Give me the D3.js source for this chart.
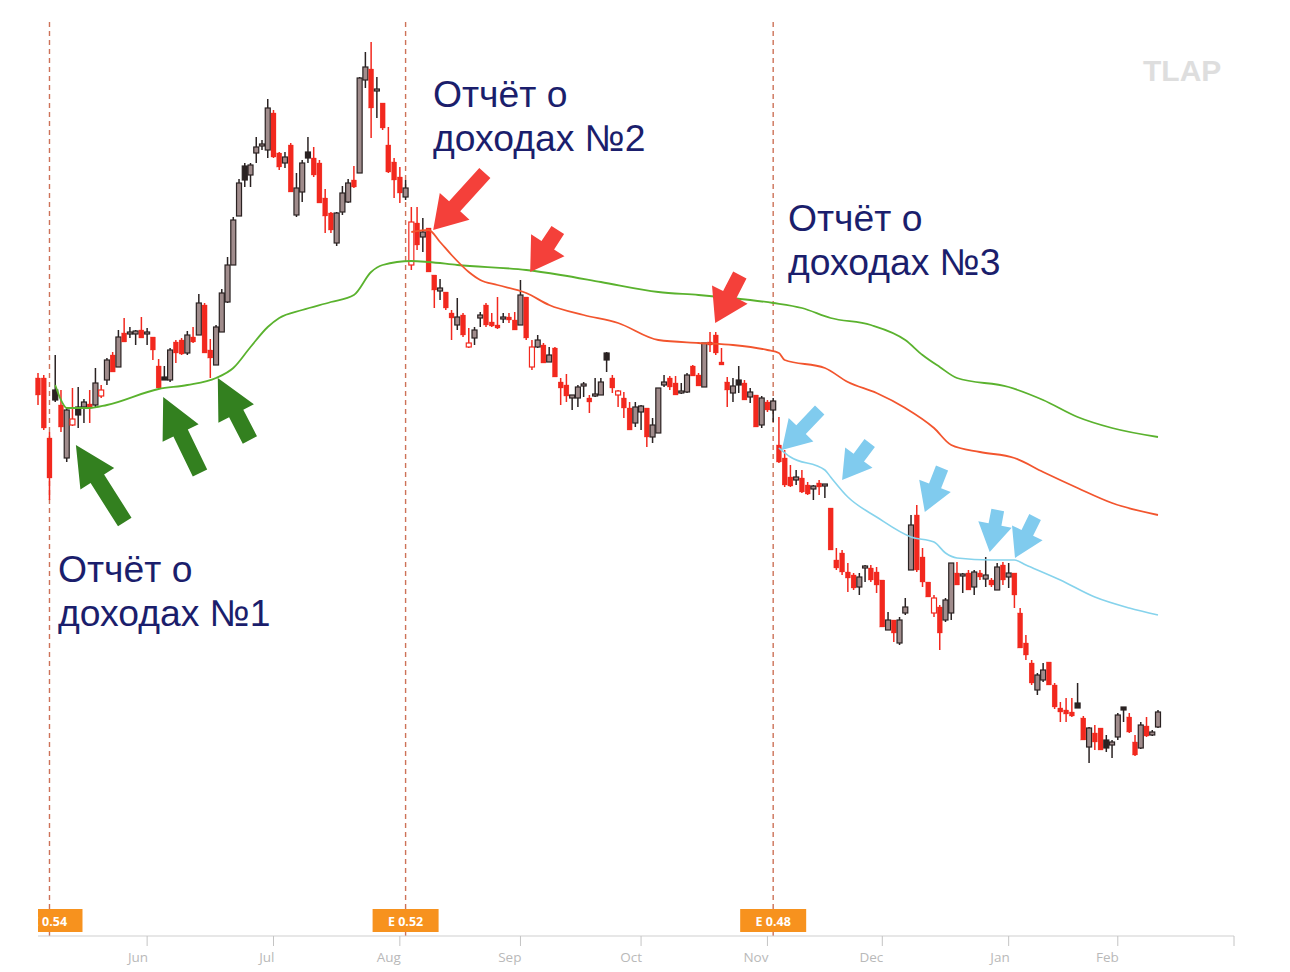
<!DOCTYPE html>
<html><head><meta charset="utf-8">
<script src="https://cdn.jsdelivr.net/npm/d3@7/dist/d3.min.js"></script>
<style>html,body{margin:0;padding:0;background:#fff;}svg{display:block;}</style>
</head><body>
<svg id="chart" width="1290" height="972"></svg>
<script>
// ---- categories: trading days ----
const startDate = "2015-05-04", endDate = "2016-02-10";
const holidays = ["2015-05-25","2015-07-03","2015-09-07","2015-11-26","2015-12-25","2016-01-01","2016-01-18"];

// ---- OHLC series ----
const O = [62.2,62.2,56.2,61.0,59.5,54.2,57.5,59.3,59.3,59.6, 59.5,60.4,62.0,64.5,63.3,66.7,66.6,66.6,67.0,66.6, 66.3,63.4,62.3,62.0,65.8,66.0,64.7,66.3,66.5,69.5, 65.0,63.5,66.8,69.8,73.5,78.4,83.4,82.5,84.7,85.4, 85.0,88.7,84.7,83.7,85.5,78.5,80.8,84.8,84.2,83.7, 80.2,78.7,75.7,78.8,79.8,82.0,82.7,92.0,93.1,90.9, 89.7,85.5,83.8,82.3,80.3,73.5,77.7,76.3,77.2,72.5, 70.9,70.8,68.7,67.5,68.5,65.3,66.2,68.2,69.5,67.8, 67.5,68.1,68.3,68.0,67.5,70.3,63.3,65.3,65.5,63.8, 65.2,61.8,61.5,60.2,60.2,61.4,60.2,60.4,60.5,64.7, 62.2,60.5,60.2,59.2,57.7,58.8,59.2,56.3,56.7,61.5, 62.2,61.7,60.7,60.8,63.4,62.5,61.3,65.8,66.5,63.8, 61.8,60.7,62.0,61.7,60.3,60.5,57.5,59.8,59.0,55.5, 54.2,52.3,52.0,52.2,51.5,51.1,51.7,51.4,49.2,44.0, 44.7,42.8,42.5,41.3,43.2,43.2,42.8,42.0,37.0,38.0, 35.7,38.7,43.0,48.5,44.3,41.8,38.7,39.3,38.0,38.7, 42.7,42.4,42.7,41.3,42.7,42.1,42.0,41.0,43.5,42.3, 42.7,38.7,35.7,33.7,31.0,32.0,33.8,31.5,29.2,29.0, 28.8,29.7,28.2,25.3,26.7,27.2,26.0,25.5,26.3,29.3, 28.3,25.8,25.2,27.4,26.5,27.3];
const H = [62.7,62.5,56.8,64.5,61.0,59.2,61.2,61.3,60.1,61.0, 63.2,61.5,64.2,64.8,67.0,68.2,67.3,67.0,68.3,67.2, 66.3,64.1,63.4,65.2,66.0,66.2,66.9,67.3,70.6,69.7, 66.1,67.5,71.1,74.3,78.3,82.1,83.7,83.7,86.3,86.0, 90.1,89.0,84.8,84.8,85.7,82.7,84.0,86.3,85.3,84.0, 81.1,78.8,78.8,81.4,82.1,83.4,92.3,94.8,95.8,92.3, 89.7,87.3,84.2,83.3,82.0,79.3,79.3,78.2,77.2,72.5, 72.1,70.8,69.0,70.2,68.7,67.2,67.3,68.8,69.7,68.7, 70.3,68.7,68.7,68.8,72.0,70.3,66.0,66.5,65.7,65.3, 65.3,62.2,62.6,60.5,61.5,61.8,60.5,62.2,62.2,64.8, 62.5,61.0,60.8,59.8,59.8,59.5,59.2,58.2,61.2,62.5, 62.4,62.4,61.7,62.7,63.5,62.7,65.7,66.8,66.8,65.2, 62.3,62.2,63.4,62.0,61.2,60.5,60.4,60.0,60.2,58.3, 55.0,53.5,53.0,53.0,51.8,51.5,52.0,51.6,49.2,45.2, 45.0,43.7,42.7,42.7,43.5,43.5,43.3,42.0,38.8,38.0, 38.3,40.2,48.5,49.5,45.2,41.8,40.5,39.5,40.2,43.7, 43.8,42.7,43.0,43.0,43.0,44.3,42.2,43.7,43.8,43.7, 42.7,39.2,36.5,34.0,32.7,33.7,33.8,31.7,29.8,30.2, 30.2,31.7,28.4,27.3,27.5,27.2,26.5,26.0,28.7,29.3, 28.7,26.5,27.8,28.3,27.0,29.0];
const L = [59.5,57.0,50.0,59.8,56.8,53.8,57.4,57.2,57.7,57.7, 59.3,60.2,61.5,62.8,63.3,65.8,66.2,65.5,66.2,65.5, 64.0,61.2,62.0,61.8,63.7,64.5,64.5,65.7,66.5,64.7, 62.2,63.5,66.8,69.7,73.5,78.4,81.3,81.3,83.7,85.0, 84.2,84.2,83.0,83.2,80.8,78.3,79.8,83.7,82.3,79.7, 76.7,76.7,75.4,78.5,79.7,81.2,82.7,91.2,86.2,88.2, 87.0,82.7,80.2,79.7,80.0,73.0,75.0,74.8,72.8,69.2, 70.0,69.0,66.0,67.0,66.3,65.2,65.5,67.3,67.3,67.3, 67.1,67.7,67.7,67.0,67.5,66.0,63.0,65.2,63.7,63.8, 62.3,59.5,59.8,59.0,59.3,60.3,58.7,60.3,60.5,62.8, 60.7,59.3,58.2,57.0,57.3,57.0,55.3,55.7,56.7,61.3, 61.0,60.5,60.6,60.7,62.4,61.4,61.3,64.8,64.5,63.5, 59.3,59.8,60.7,60.0,59.7,57.3,57.2,58.8,57.8,53.7, 51.3,51.3,51.5,50.7,50.5,50.0,50.5,50.2,45.0,43.0, 42.5,40.8,41.0,40.5,41.8,41.8,40.7,37.3,37.0,35.8, 35.5,38.5,43.0,42.8,41.3,40.3,38.3,35.0,37.8,38.0, 41.5,40.7,41.0,40.5,42.0,41.3,41.3,41.0,41.5,41.2, 39.2,35.2,34.0,31.5,30.5,31.8,31.5,29.1,27.8,27.8, 28.3,29.2,26.0,23.7,25.0,25.0,24.8,24.2,26.0,27.8, 26.7,24.4,25.1,26.3,26.4,27.2];
const C = [60.5,57.2,52.2,60.0,57.3,59.0,58.1,58.5,59.8,59.2, 61.7,61.0,64.0,62.8,66.3,65.8,66.8,66.9,66.2,66.8, 65.0,61.2,62.0,65.0,64.7,64.6,66.5,65.8,69.7,64.7, 64.2,67.3,70.7,73.5,78.0,81.7,82.0,83.5,85.3,85.6, 89.2,84.3,83.3,84.3,80.8,81.2,83.7,84.2,82.5,79.7, 78.4,77.0,78.7,80.7,81.7,81.3,92.2,93.3,89.2,91.1, 87.2,82.8,82.0,80.7,81.2,77.8,75.5,76.8,72.8,71.0, 71.2,69.2,68.2,68.3,66.5,65.7,67.0,68.5,67.5,67.4, 67.2,68.3,68.0,67.0,70.5,66.2,65.3,66.0,63.7,64.5, 62.3,61.2,60.4,60.5,61.3,61.6,59.8,60.6,61.8,64.0, 61.2,60.9,59.2,57.0,59.3,59.4,56.3,57.5,61.2,61.8, 61.3,60.5,60.9,62.5,62.4,61.4,65.7,65.5,64.7,63.5, 61.0,61.4,61.5,60.0,60.8,57.3,60.2,59.0,59.9,53.8, 51.5,51.4,52.3,50.8,50.6,51.4,51.3,51.6,45.0,43.2, 42.8,42.2,41.2,42.3,43.4,42.0,41.5,37.3,38.0,36.7, 38.0,39.3,47.5,43.0,41.8,40.3,40.2,36.7,40.0,43.7, 41.5,42.6,41.0,42.8,42.3,42.5,41.5,43.3,42.0,42.7, 40.5,35.2,34.5,31.7,32.5,33.0,31.5,29.3,28.8,28.6, 28.4,29.2,26.0,27.2,25.8,25.0,25.2,25.8,28.5,29.0, 26.8,24.5,27.5,26.4,26.8,28.8];

// ---- anchored average lines: [day index, value] ----
const greenLine = [[3,61.5],[4,60.0],[5,59.2],[9,59.2],[12,59.5],[21,61.1],[26,61.5],[31,62.2],[34,63.2],[37,65.3],[40,67.3],[42,68.2],[46,69.0],[51,69.8],[55,70.5],[58,72.8],[60,73.5],[65,73.9],[68,73.8],[73,73.5],[85,73.0],[91,72.5],[98,71.8],[108,70.8],[115,70.5],[124,70.0],[128,69.7],[133,69.2],[138,68.2],[145,67.5],[151,66.0],[154,64.5],[157,63.3],[160,62.2],[169,61.3],[175,60.0],[181,58.3],[187,57.2],[195,56.3]];
const redLine = [[65,76.8],[68,77.0],[70,75.8],[72,74.5],[75,72.8],[77,72.0],[80,71.5],[85,70.7],[89,69.5],[95,68.5],[101,67.7],[108,66.0],[115,65.7],[121,65.5],[127,65.0],[129,64.7],[130,64.0],[137,63.2],[141,61.8],[146,60.7],[151,59.2],[156,57.2],[159,55.5],[164,54.8],[170,54.2],[175,52.8],[181,51.2],[187,49.7],[195,48.5]];
const cyanLine = [[129,55.2],[131,54.3],[137,53.0],[138,52.3],[141,50.3],[146,48.3],[152,46.3],[156,45.8],[158,44.7],[160,44.2],[166,44.0],[170,44.0],[172,43.5],[178,42.0],[184,40.3],[190,39.2],[195,38.5]];

// ---- earnings ----
const earningsDates = ["2015-05-06","2015-08-04","2015-11-03"];
const earningsLabels = ["E 0.54","E 0.52","E 0.48"];

// ---- annotations ----
const noteLines = [["Отчёт о","доходах №1"],["Отчёт о","доходах №2"],["Отчёт о","доходах №3"]];
// arrows: tip [index,value], tail [index,value]
const greenArrows = [[[6.6,55.5],[15.1,47.8]],[[21.8,60.3],[28.2,52.7]],[[31.3,62.2],[36.9,56.0]]];
const redArrows = [[[68.8,77.0],[77.8,82.7]],[[85.7,72.8],[90.5,77.0]],[[117.9,67.7],[122.2,72.5]]];
const cyanArrows = [[[129.5,55.0],[136.1,59.0]],[[140.0,52.0],[144.8,55.7]],[[154.4,48.8],[157.4,53.2]],[[165.7,44.8],[167.1,49.0]],[[170.1,44.2],[173.6,48.3]]];

// ---- build ----
const parse = d3.timeParse("%Y-%m-%d"), fmt = d3.timeFormat("%Y-%m-%d");
const dates = d3.timeDay.range(parse(startDate), d3.timeDay.offset(parse(endDate),1))
  .filter(d => d.getDay()!==0 && d.getDay()!==6 && !holidays.includes(fmt(d)));
const data = dates.map((d,i)=>({i, date:d, o:O[i], h:H[i], l:L[i], c:C[i]}));

const svg = d3.select("#chart");
const x = d3.scaleLinear().domain([0, 195]).range([38, 1158]);
const y = d3.scaleLinear().domain([0, 100]).range([1000, 0]);
const axisY = 936, axisEnd = 1234;

svg.append("defs").append("clipPath").attr("id","plotclip")
  .append("rect").attr("x",38).attr("y",0).attr("width",1200).attr("height",972);

// watermark
svg.append("text").attr("x",1143).attr("y",81).text("TLAP")
  .attr("font-family","'Liberation Sans', Arial, sans-serif").attr("font-weight","bold")
  .attr("font-size",30).attr("fill","#dedede");

// earnings lines
const eIdx = earningsDates.map(s => dates.findIndex(d => fmt(d)===s));
svg.append("g").selectAll("line").data(eIdx).join("line")
  .attr("x1",d=>x(d)).attr("x2",d=>x(d)).attr("y1",22).attr("y2",axisY)
  .attr("stroke","#cd7258").attr("stroke-width",1.4).attr("stroke-dasharray","5,4");

// axis
const ax = svg.append("g");
ax.append("line").attr("x1",38).attr("x2",axisEnd).attr("y1",axisY).attr("y2",axisY)
  .attr("stroke","#cfcfcf").attr("stroke-width",1);
const monthStarts = data.filter((d,i)=> i>0 && d.date.getMonth()!==data[i-1].date.getMonth());
ax.selectAll("line.tick").data(monthStarts).join("line").attr("class","tick")
  .attr("x1",d=>x(d.i)).attr("x2",d=>x(d.i)).attr("y1",axisY).attr("y2",axisY+10)
  .attr("stroke","#c4c4c4");
ax.append("line").attr("x1",axisEnd).attr("x2",axisEnd).attr("y1",axisY).attr("y2",axisY+10).attr("stroke","#c4c4c4");
ax.selectAll("text").data(monthStarts).join("text")
  .attr("x",d=>x(d.i)+1).attr("y",962).attr("text-anchor","end")
  .attr("font-family","'Open Sans', sans-serif").attr("font-size",13.5).attr("fill","#b9b9b9")
  .text(d=>d3.timeFormat("%b")(d.date));

// badges
const bg = svg.append("g").attr("clip-path","url(#plotclip)");
eIdx.forEach((d,k)=>{
  bg.append("rect").attr("x",x(d)-33).attr("y",909).attr("width",66).attr("height",23).attr("fill","#f7921e");
  bg.append("text").attr("x",x(d)).attr("y",925.5).attr("text-anchor","middle")
    .attr("font-family","'Open Sans', sans-serif").attr("font-weight","bold").attr("font-size",12.5)
    .attr("fill","#fff").text(earningsLabels[k]);
});

// candles
const bw = 5;
const cg = svg.append("g");
data.forEach((d,i)=>{
  const prev = i>0 ? data[i-1].c : d.o;
  const red = d.c < prev;
  const hollow = d.c > d.o;
  const col = red ? "#f2281e" : "#2a2222";
  cg.append("line").attr("x1",x(i)).attr("x2",x(i)).attr("y1",y(d.h)).attr("y2",y(d.l))
    .attr("stroke",col).attr("stroke-width",1.5);
  const top = y(Math.max(d.o,d.c)), bot = y(Math.min(d.o,d.c));
  const hgt = Math.max(bot-top, 1.8);
  let fill;
  if (red) fill = hollow ? "#ffffff" : "#f2281e";
  else fill = hollow ? "#a08c8c" : "#2a2222";
  cg.append("rect").attr("x",x(i)-bw/2).attr("y",top).attr("width",bw).attr("height",hgt)
    .attr("fill",fill).attr("stroke",col).attr("stroke-width", red && !hollow ? 0.3 : 1.2);
});

// lines
const line = d3.line().x(d=>x(d[0])).y(d=>y(d[1])).curve(d3.curveMonotoneX);
svg.append("path").attr("d",line(greenLine)).attr("fill","none").attr("stroke","#5ab22e").attr("stroke-width",1.8);
svg.append("path").attr("d",line(redLine)).attr("fill","none").attr("stroke","#f2552e").attr("stroke-width",1.8);
svg.append("path").attr("d",line(cyanLine)).attr("fill","none").attr("stroke","#86d3ec").attr("stroke-width",1.6);

// arrows
function arrow(tip, tail, headLen, headW, shaftW){
  const tx=x(tip[0]), ty=y(tip[1]), sx=x(tail[0]), sy=y(tail[1]);
  const len=Math.hypot(tx-sx,ty-sy), ux=(tx-sx)/len, uy=(ty-sy)/len, nx=-uy, ny=ux;
  const bx=tx-ux*headLen, by=ty-uy*headLen;
  const pts=[[sx+nx*shaftW/2,sy+ny*shaftW/2],[bx+nx*shaftW/2,by+ny*shaftW/2],[bx+nx*headW/2,by+ny*headW/2],[tx,ty],
    [bx-nx*headW/2,by-ny*headW/2],[bx-nx*shaftW/2,by-ny*shaftW/2],[sx-nx*shaftW/2,sy-ny*shaftW/2]];
  return "M"+pts.map(p=>p[0].toFixed(1)+","+p[1].toFixed(1)).join("L")+"Z";
}
const ag = svg.append("g");
greenArrows.forEach(a=>ag.append("path").attr("d",arrow(a[0],a[1],40,40,16)).attr("fill","#33801f"));
redArrows.forEach(a=>ag.append("path").attr("d",arrow(a[0],a[1],32,40,15)).attr("fill","#f4403a"));
cyanArrows.forEach(a=>ag.append("path").attr("d",arrow(a[0],a[1],28,34,13)).attr("fill","#80cbee"));

// notes
const notePos = [[58,582],[433,107],[788,231]];
const tg = svg.append("g").attr("font-family","'Liberation Sans', Arial, sans-serif").attr("font-size",37.3).attr("fill","#1b1e6c");
noteLines.forEach((ls,k)=>{
  ls.forEach((t,j)=> tg.append("text").attr("x",notePos[k][0]).attr("y",notePos[k][1]+j*44).text(t));
});
</script>
</body></html>
